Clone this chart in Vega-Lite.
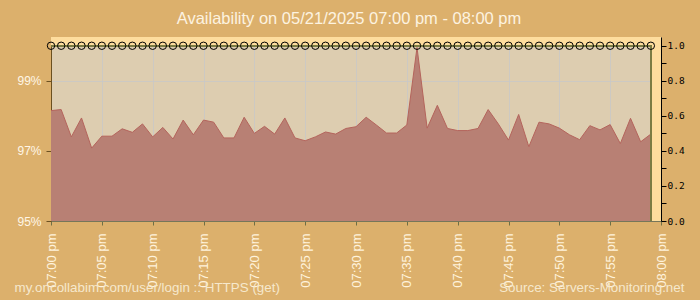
{
  "$schema": "https://vega.github.io/schema/vega-lite/v6.json",
  "width": 610,
  "height": 184,
  "autosize": {"type": "none"},
  "padding": {"left": 51, "top": 37, "right": 39, "bottom": 79},
  "background": "#dcb06c",
  "title": {
    "text": "Availability on 05/21/2025 07:00 pm - 08:00 pm",
    "color": "#fdf3e0",
    "font": "Liberation Sans",
    "fontSize": 16.5,
    "fontWeight": "normal",
    "anchor": "middle",
    "offset": 10,
    "dx": -7
  },
  "config": {"view": {"fill": "#ddcdb0", "stroke": null}},
  "data": {
    "values": [
      {"m": 0, "v": 98.15, "up": 1},
      {"m": 1, "v": 98.18, "up": 1},
      {"m": 2, "v": 97.40, "up": 1},
      {"m": 3, "v": 97.94, "up": 1},
      {"m": 4, "v": 97.08, "up": 1},
      {"m": 5, "v": 97.42, "up": 1},
      {"m": 6, "v": 97.42, "up": 1},
      {"m": 7, "v": 97.63, "up": 1},
      {"m": 8, "v": 97.53, "up": 1},
      {"m": 9, "v": 97.77, "up": 1},
      {"m": 10, "v": 97.40, "up": 1},
      {"m": 11, "v": 97.67, "up": 1},
      {"m": 12, "v": 97.34, "up": 1},
      {"m": 13, "v": 97.88, "up": 1},
      {"m": 14, "v": 97.46, "up": 1},
      {"m": 15, "v": 97.88, "up": 1},
      {"m": 16, "v": 97.82, "up": 1},
      {"m": 17, "v": 97.37, "up": 1},
      {"m": 18, "v": 97.37, "up": 1},
      {"m": 19, "v": 97.96, "up": 1},
      {"m": 20, "v": 97.50, "up": 1},
      {"m": 21, "v": 97.70, "up": 1},
      {"m": 22, "v": 97.48, "up": 1},
      {"m": 23, "v": 97.94, "up": 1},
      {"m": 24, "v": 97.37, "up": 1},
      {"m": 25, "v": 97.29, "up": 1},
      {"m": 26, "v": 97.40, "up": 1},
      {"m": 27, "v": 97.54, "up": 1},
      {"m": 28, "v": 97.48, "up": 1},
      {"m": 29, "v": 97.64, "up": 1},
      {"m": 30, "v": 97.69, "up": 1},
      {"m": 31, "v": 97.96, "up": 1},
      {"m": 32, "v": 97.74, "up": 1},
      {"m": 33, "v": 97.51, "up": 1},
      {"m": 34, "v": 97.51, "up": 1},
      {"m": 35, "v": 97.74, "up": 1},
      {"m": 36, "v": 99.95, "up": 1},
      {"m": 37, "v": 97.65, "up": 1},
      {"m": 38, "v": 98.30, "up": 1},
      {"m": 39, "v": 97.64, "up": 1},
      {"m": 40, "v": 97.58, "up": 1},
      {"m": 41, "v": 97.58, "up": 1},
      {"m": 42, "v": 97.64, "up": 1},
      {"m": 43, "v": 98.18, "up": 1},
      {"m": 44, "v": 97.77, "up": 1},
      {"m": 45, "v": 97.31, "up": 1},
      {"m": 46, "v": 98.04, "up": 1},
      {"m": 47, "v": 97.12, "up": 1},
      {"m": 48, "v": 97.82, "up": 1},
      {"m": 49, "v": 97.77, "up": 1},
      {"m": 50, "v": 97.65, "up": 1},
      {"m": 51, "v": 97.46, "up": 1},
      {"m": 52, "v": 97.32, "up": 1},
      {"m": 53, "v": 97.72, "up": 1},
      {"m": 54, "v": 97.60, "up": 1},
      {"m": 55, "v": 97.75, "up": 1},
      {"m": 56, "v": 97.21, "up": 1},
      {"m": 57, "v": 97.93, "up": 1},
      {"m": 58, "v": 97.26, "up": 1},
      {"m": 59, "v": 97.48, "up": 1}
    ]
  },
  "layer": [
    {
      "layer": [
        {
          "mark": {"type": "area", "fill": "#b88074", "opacity": 1, "fillOpacity": 1, "clip": true, "line": {"color": "#b4645c", "strokeWidth": 1}},
          "encoding": {
            "x": {
              "field": "m",
              "type": "quantitative",
              "scale": {"domain": [0, 60], "nice": false, "zero": false},
              "axis": {
                "orient": "bottom",
                "values": [0, 5, 10, 15, 20, 25, 30, 35, 40, 45, 50, 55, 60],
                "labelExpr": "datum.value === 60 ? '08:00 pm' : '07:' + (datum.value < 10 ? '0' : '') + datum.value + ' pm'",
                "labelAngle": 270,
                "labelOverlap": false,
                "labelFlush": false,
                "labelColor": "#fff3dc",
                "labelFont": "Liberation Sans",
                "labelFontSize": 13,
                "labelPadding": 8,
                "tickSize": 4,
                "tickColor": "#6f6f45",
                "domainColor": "#76765a",
                "grid": true,
                "gridColor": "#c8c8c8",
                "gridOpacity": 0.8,
                "title": "my.oncollabim.com/user/login :: HTTPS (get)",
                "titleFont": "Liberation Sans",
                "titleFontSize": 13.4,
                "titleFontWeight": "normal",
                "titleColor": "#f6e8cc",
                "titleAlign": "left",
                "titleAnchor": "start",
                "titleBaseline": "alphabetic",
                "titleX": -37,
                "titleY": 70
              }
            },
            "y": {
              "field": "v",
              "type": "quantitative",
              "stack": null,
              "scale": {"domain": [95, 100.25], "nice": false, "zero": false},
              "axis": {
                "orient": "left",
                "values": [95, 96, 97, 98, 99, 100],
                "labelExpr": "datum.value + '%'",
                "labelOverlap": false,
                "labelColor": "#fff6e6",
                "labelFont": "Liberation Sans",
                "labelFontSize": 12,
                "labelPadding": 5,
                "tickSize": 5,
                "tickColor": "#6b5020",
                "domainColor": "#6b5020",
                "grid": true,
                "gridColor": "#c8c8c8",
                "gridOpacity": 0.8,
                "title": null
              }
            }
          }
        },
        {
          "mark": {"type": "rect", "color": "#fedd9e", "opacity": 1},
          "encoding": {
            "x": {"datum": 0},
            "x2": {"datum": 60},
            "y": {"datum": 100},
            "y2": {"datum": 100.25}
          }
        },
        {
          "mark": {"type": "rect", "color": "#fedd9e", "opacity": 1},
          "encoding": {
            "x": {"datum": 59},
            "x2": {"datum": 60},
            "y": {"datum": 95},
            "y2": {"datum": 100.25}
          }
        },
        {
          "mark": {"type": "rule", "color": "#7d7d45", "strokeWidth": 1},
          "encoding": {"x": {"datum": 0}, "x2": {"datum": 59}, "y": {"datum": 100}}
        },
        {
          "mark": {"type": "rule", "color": "#7d7d45", "strokeWidth": 1},
          "encoding": {"x": {"datum": 59}, "y": {"datum": 95}, "y2": {"datum": 100}}
        }
      ]
    },
    {
      "mark": {"type": "point", "shape": "circle", "filled": false, "stroke": "#000000", "strokeWidth": 1, "size": 55, "opacity": 1},
      "encoding": {
        "x": {"field": "m", "type": "quantitative"},
        "y": {
          "field": "up",
          "type": "quantitative",
          "scale": {"domain": [0, 1.05], "nice": false, "zero": true},
          "axis": {
            "orient": "right",
            "values": [0, 0.1, 0.2, 0.3, 0.4, 0.5, 0.6, 0.7, 0.8, 0.9, 1.0],
            "labelExpr": "round(datum.value * 10) % 2 === 0 ? format(datum.value, '.1f') : ''",
            "labelFont": "DejaVu Sans Mono",
            "labelFontSize": 9.5,
            "labelColor": "#000000",
            "labelPadding": 1,
            "tickSize": 5,
            "tickColor": "#000000",
            "domainColor": "#000000",
            "grid": false,
            "title": "Source: Servers-Monitoring.net",
            "titleAngle": 0,
            "titleFont": "Liberation Sans",
            "titleFontSize": 13.4,
            "titleFontWeight": "normal",
            "titleColor": "#f6e8cc",
            "titleAlign": "right",
            "titleBaseline": "alphabetic",
            "titleX": 23,
            "titleY": 254
          }
        }
      }
    }
  ],
  "resolve": {"scale": {"y": "independent"}}
}
